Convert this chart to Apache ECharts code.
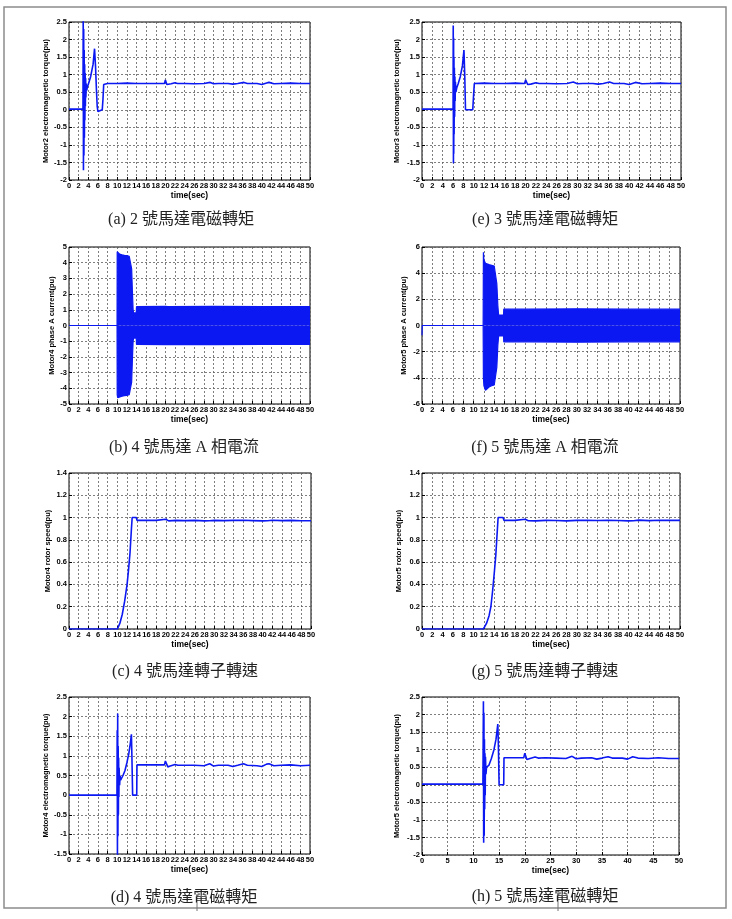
<!DOCTYPE html>
<html>
<head>
<meta charset="utf-8">
<script src="https://cdn.jsdelivr.net/npm/echarts@6/dist/echarts.min.js"></script>
<style>
  html, body { margin: 0; padding: 0; background: #fff; }
  #chart { width: 732px; height: 919px; }
</style>
</head>
<body>
<div id="chart"></div>
<script>
// ---- data: [time(sec), value(pu)] ----
const motor2Torque = [[0,0.02],[2.9,0.02],[2.95,2.7],[3.0,-1.72],[3.05,2.3],[3.1,-1.3],[3.15,1.7],[3.2,-0.8],[3.25,1.3],[3.3,-0.3],[3.35,1.05],[3.4,0.1],[3.45,0.9],[3.5,0.35],[3.6,0.75],[3.7,0.55],[3.8,0.65],[4.0,0.72],[4.5,0.95],[5.0,1.3],[5.3,1.74],[5.5,1.25],[5.7,0.55],[5.85,0.1],[6.0,-0.05],[6.2,0.0],[6.9,0.0],[7.05,0.3],[7.2,0.72],[7.5,0.76],[8,0.75],[10,0.75],[12,0.76],[14,0.75],[16,0.75],[18,0.75],[19.8,0.75],[20.0,0.85],[20.3,0.72],[20.7,0.72],[21.2,0.74],[22,0.77],[22.5,0.75],[24,0.75],[26,0.74],[28,0.75],[29.3,0.78],[30,0.74],[31,0.75],[33,0.75],[34,0.73],[35,0.75],[36.3,0.78],[37,0.75],[39,0.75],[40,0.72],[41,0.76],[41.5,0.78],[42.5,0.74],[44,0.75],[46,0.76],[48,0.75],[50,0.75]];

const motor3Torque = [[0,0.02],[6.0,0.02],[6.03,2.4],[6.07,-1.52],[6.1,2.05],[6.13,-1.25],[6.17,1.5],[6.2,-0.7],[6.25,1.2],[6.3,-0.2],[6.35,0.95],[6.4,0.25],[6.45,0.8],[6.55,0.5],[6.7,0.62],[7.0,0.75],[7.4,0.95],[7.8,1.25],[8.1,1.7],[8.25,1.0],[8.4,0.0],[9.8,0.0],[9.95,0.4],[10.1,0.75],[12,0.76],[14,0.75],[16,0.75],[18,0.76],[19.8,0.75],[20.0,0.85],[20.4,0.72],[21,0.73],[22,0.77],[22.6,0.75],[24,0.75],[26,0.74],[28,0.75],[29.2,0.79],[30,0.74],[31,0.75],[33,0.75],[34,0.73],[35,0.75],[36.2,0.79],[37,0.75],[39,0.75],[40,0.72],[41.2,0.78],[42.5,0.74],[44,0.75],[46,0.76],[48,0.75],[50,0.75]];

const motor4Torque = [[0,0],[9.95,0],[10.0,1.65],[10.05,-1.6],[10.1,2.08],[10.15,-1.05],[10.2,1.25],[10.25,-0.5],[10.3,0.95],[10.35,-0.05],[10.4,0.7],[10.5,0.25],[10.6,0.5],[10.7,0.38],[10.9,0.42],[11.2,0.5],[11.6,0.62],[12.0,0.82],[12.4,1.05],[12.7,1.3],[12.95,1.55],[13.05,1.0],[13.2,0.0],[14.05,0.0],[14.1,0.77],[16,0.77],[18,0.77],[19.8,0.77],[20.0,0.87],[20.5,0.72],[21,0.74],[22,0.78],[22.6,0.76],[24,0.76],[26,0.76],[28,0.75],[29.2,0.8],[30,0.74],[31,0.76],[33,0.76],[34,0.73],[35,0.76],[36.2,0.8],[37,0.76],[39,0.75],[40,0.73],[41,0.79],[41.5,0.8],[42.5,0.75],[44,0.76],[46,0.77],[48,0.75],[50,0.76]];

const motor5Torque = [[0,0.02],[11.85,0.02],[11.95,2.38],[12.0,-1.65],[12.05,2.05],[12.1,-1.45],[12.15,1.3],[12.2,-0.7],[12.25,0.9],[12.3,-0.3],[12.35,0.8],[12.45,0.3],[12.55,0.5],[12.7,0.45],[13.0,0.55],[13.5,0.75],[14.0,1.0],[14.4,1.3],[14.75,1.73],[14.85,1.2],[15.0,0.0],[15.9,0.0],[15.95,0.77],[18,0.77],[19.8,0.77],[20.0,0.9],[20.4,0.72],[21,0.75],[22,0.79],[22.6,0.76],[24,0.77],[26,0.76],[28,0.75],[29.2,0.81],[30,0.74],[31,0.76],[33,0.77],[34,0.73],[35,0.76],[36.2,0.8],[37,0.76],[39,0.76],[40,0.73],[41,0.8],[42,0.76],[44,0.75],[46,0.77],[48,0.75],[50,0.75]];

const motor4Speed = [[0,0],[10,0],[10.5,0.05],[11,0.13],[11.5,0.25],[12,0.4],[12.3,0.53],[12.6,0.68],[12.9,0.9],[13.05,1.0],[13.9,1.0],[14.05,0.975],[16,0.975],[18,0.975],[20,0.985],[20.6,0.97],[22,0.975],[24,0.973],[26,0.975],[28,0.97],[29,0.972],[30,0.975],[32,0.973],[34,0.975],[36,0.976],[38,0.973],[40,0.97],[41,0.972],[42,0.976],[44,0.973],[46,0.975],[48,0.972],[50,0.972]];

const motor5Speed = [[0,0],[11.9,0],[12.5,0.05],[13,0.12],[13.35,0.2],[13.7,0.35],[14,0.5],[14.3,0.66],[14.55,0.85],[14.75,1.0],[15.7,1.0],[15.9,0.975],[18,0.975],[20,0.985],[20.6,0.972],[22,0.97],[24,0.975],[26,0.974],[28,0.97],[30,0.975],[32,0.975],[34,0.974],[36,0.976],[38,0.974],[40,0.97],[41,0.972],[42,0.977],[44,0.973],[46,0.976],[48,0.975],[50,0.975]];

// phase A current: envelope of the fast oscillation
const motor4CurrentTime  = [0, 9.97, 10.0, 10.1, 10.5, 11, 11.5, 12, 12.5, 12.8, 13.0, 13.15, 13.3, 13.4, 13.95, 14.0, 20.0, 20.2, 20.5, 30, 40, 50];
const motor4CurrentUpper = [0, 0, 4.7, 4.65, 4.55, 4.5, 4.47, 4.45, 4.4, 4.3, 3.6, 2.2, 1.0, 0.8, 0.8, 1.2, 1.22, 1.28, 1.2, 1.22, 1.2, 1.2];
const motor4CurrentLower = [0, 0, -4.4, -4.6, -4.55, -4.5, -4.47, -4.45, -4.4, -4.3, -3.6, -2.2, -1.0, -0.8, -0.8, -1.2, -1.22, -1.25, -1.2, -1.22, -1.2, -1.2];

const motor5CurrentTime  = [0, 0.05, 11.85, 11.9, 12.0, 12.3, 12.5, 13, 13.5, 14, 14.3, 14.5, 14.7, 14.85, 15.8, 15.85, 20, 20.3, 20.6, 30, 40, 50];
const motor5CurrentUpper = [0, 0, 0, 5.6, 5.0, 4.75, 4.7, 4.65, 4.6, 4.55, 4.4, 3.2, 1.5, 0.8, 0.8, 1.25, 1.25, 1.35, 1.25, 1.28, 1.25, 1.25];
const motor5CurrentLower = [-0.75, 0, 0, -4.0, -4.6, -4.95, -4.8, -4.7, -4.6, -4.55, -4.4, -3.2, -1.5, -0.8, -0.8, -1.25, -1.25, -1.35, -1.25, -1.28, -1.25, -1.25];

const yNames = [
  'Motor2 electromagnetic torque(pu)', 'Motor3 electromagnetic torque(pu)',
  'Motor4 phase A current(pu)', 'Motor5 phase A current(pu)',
  'Motor4 rotor speed(pu)', 'Motor5 rotor speed(pu)',
  'Motor4 electromagnetic torque(pu)', 'Motor5 electromagnetic torque(pu)'
];
const captions = [
  '(a) 2 號馬達電磁轉矩', '(e) 3 號馬達電磁轉矩',
  '(b) 4 號馬達 A 相電流', '(f) 5 號馬達 A 相電流',
  '(c) 4 號馬達轉子轉速', '(g) 5 號馬達轉子轉速',
  '(d) 4 號馬達電磁轉矩', '(h) 5 號馬達電磁轉矩'
];
const yRanges = [[-2, 2.5, 0.5], [-2, 2.5, 0.5], [-5, 5, 1], [-6, 6, 2], [0, 1.4, 0.2], [0, 1.4, 0.2], [-1.5, 2.5, 0.5], [-2, 2.5, 0.5]];
const xSteps = [2, 2, 2, 2, 2, 2, 2, 5];

// ---- layout ----
const grids = [
  { left: 69, top: 22, width: 241, height: 158 },
  { left: 422, top: 22, width: 259, height: 158 },
  { left: 69, top: 247, width: 241, height: 157 },
  { left: 422, top: 247, width: 258, height: 157 },
  { left: 69, top: 473, width: 242, height: 156 },
  { left: 422, top: 473, width: 258, height: 156 },
  { left: 69, top: 697, width: 241, height: 157 },
  { left: 422, top: 697, width: 257, height: 158 }
];
const yNameGaps = [18, 21, 12, 14, 17, 19, 18, 21];
const captionPos = [[181, 220], [545, 220], [184, 448], [545, 448], [185, 672], [545, 672], [184, 898], [545, 897]];

const BLUE = '#0c18f2';
const labelFont = { fontFamily: 'Liberation Sans, Arial, sans-serif', fontWeight: 'bold', fontSize: 7.5, color: '#000' };
const gridLine = { show: true, lineStyle: { color: '#5e5e5e', type: [2, 2], width: 0.8 } };

const chart = echarts.init(document.getElementById('chart'));

const xAxes = grids.map((g, i) => ({
  type: 'value', gridIndex: i, min: 0, max: 50, interval: xSteps[i],
  name: 'time(sec)', nameLocation: 'middle', nameGap: i < 2 ? 9 : 10,
  nameTextStyle: { fontFamily: labelFont.fontFamily, fontWeight: 'bold', fontSize: 8.5, color: '#000' },
  axisLine: { show: false, onZero: false },
  axisTick: { show: true, inside: true, length: 3, lineStyle: { color: '#000' } },
  axisLabel: { ...labelFont, margin: 2 },
  splitLine: gridLine
}));
const yAxes = grids.map((g, i) => ({
  type: 'value', gridIndex: i, min: yRanges[i][0], max: yRanges[i][1], interval: yRanges[i][2],
  name: yNames[i], nameLocation: 'middle', nameGap: yNameGaps[i],
  nameTextStyle: { fontFamily: labelFont.fontFamily, fontWeight: 'bold', fontSize: 7.5, color: '#000' },
  axisLine: { show: false, onZero: false },
  axisTick: { show: true, inside: true, length: 3, lineStyle: { color: '#000' } },
  axisLabel: { ...labelFont, margin: 2 },
  splitLine: gridLine
}));

function curve(data, i) {
  return {
    type: 'line', xAxisIndex: i, yAxisIndex: i, data: data,
    showSymbol: false, clip: true, z: 3,
    lineStyle: { color: BLUE, width: 1.6 }
  };
}
function band(time, values, i) {
  return {
    type: 'line', xAxisIndex: i, yAxisIndex: i,
    data: time.map((t, k) => [t, values[k]]),
    showSymbol: false, clip: true, z: 3,
    lineStyle: { color: BLUE, width: 1.2 },
    areaStyle: { color: BLUE, opacity: 1, origin: 0 }
  };
}

const series = [
  curve(motor2Torque, 0),
  curve(motor3Torque, 1),
  band(motor4CurrentTime, motor4CurrentUpper, 2),
  band(motor4CurrentTime, motor4CurrentLower, 2),
  band(motor5CurrentTime, motor5CurrentUpper, 3),
  band(motor5CurrentTime, motor5CurrentLower, 3),
  curve(motor4Speed, 4),
  curve(motor5Speed, 5),
  curve(motor4Torque, 6),
  curve(motor5Torque, 7)
];

const graphics = [
  { type: 'rect', shape: { x: 4, y: 7, width: 722, height: 901 }, style: { fill: null, stroke: '#8c8c8c', lineWidth: 1.5 }, silent: true },
  { type: 'line', shape: { x1: 197, y1: 895, x2: 197, y2: 911 }, style: { stroke: '#777', lineWidth: 1 } },
  { type: 'line', shape: { x1: 558, y1: 890, x2: 558, y2: 911 }, style: { stroke: '#777', lineWidth: 1 } }
].concat(captions.map((c, i) => ({
  type: 'text', x: captionPos[i][0], y: captionPos[i][1],
  style: {
    text: c, textAlign: 'center', textVerticalAlign: 'middle',
    font: '16px "Liberation Serif", "Noto Sans CJK TC", serif', fill: '#222'
  }
})));

chart.setOption({
  animation: false,
  backgroundColor: '#fff',
  grid: grids.map(g => ({ ...g, show: true, borderColor: '#000', borderWidth: 1, backgroundColor: 'transparent', containLabel: false })),
  xAxis: xAxes,
  yAxis: yAxes,
  series: series,
  graphic: graphics
});
</script>
</body>
</html>
